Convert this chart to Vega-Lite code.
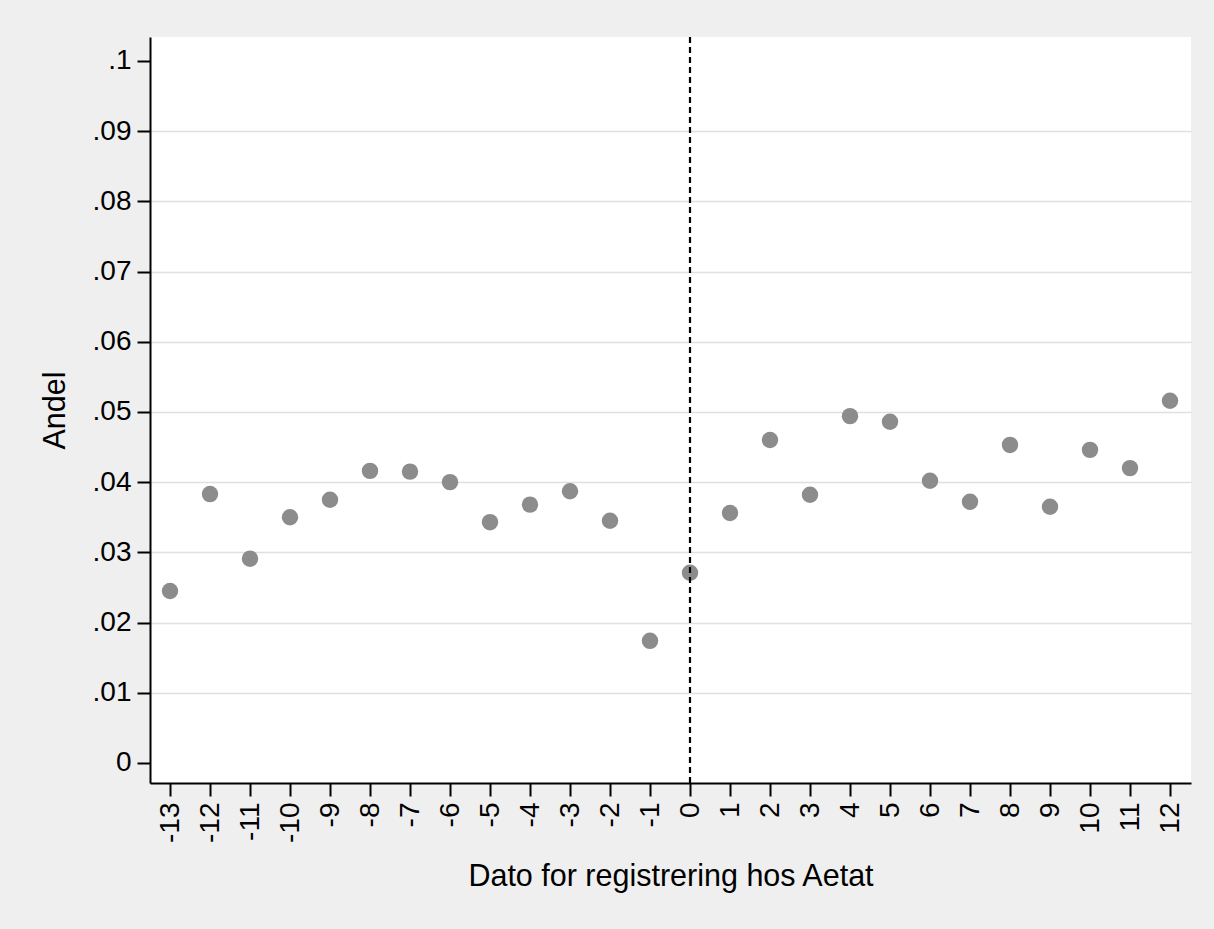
{
  "$schema": "https://vega.github.io/schema/vega-lite/v6.json",
  "autosize": {"type": "none"},
  "width": 1041,
  "height": 746,
  "padding": {"left": 150, "top": 37, "right": 23, "bottom": 146},
  "background": "#efefef",
  "config": {
    "view": {"fill": "white", "stroke": null},
    "font": "Liberation Sans",
    "axis": {
      "domainColor": "black",
      "domainWidth": 2,
      "tickColor": "black",
      "tickWidth": 2,
      "tickSize": 13,
      "labelColor": "black",
      "titleColor": "black",
      "labelFont": "Liberation Sans",
      "titleFont": "Liberation Sans",
      "labelFontSize": 28,
      "titleFontSize": 30.5,
      "titleFontWeight": "normal",
      "labelPadding": 6
    }
  },
  "data": {
    "values": [
      {"t": -13, "andel": 0.0245},
      {"t": -12, "andel": 0.0383},
      {"t": -11, "andel": 0.0291},
      {"t": -10, "andel": 0.0350},
      {"t": -9, "andel": 0.0375},
      {"t": -8, "andel": 0.0416},
      {"t": -7, "andel": 0.0415},
      {"t": -6, "andel": 0.0400},
      {"t": -5, "andel": 0.0343},
      {"t": -4, "andel": 0.0368},
      {"t": -3, "andel": 0.0387},
      {"t": -2, "andel": 0.0345},
      {"t": -1, "andel": 0.0174},
      {"t": 0, "andel": 0.0271},
      {"t": 1, "andel": 0.0356},
      {"t": 2, "andel": 0.0460},
      {"t": 3, "andel": 0.0382},
      {"t": 4, "andel": 0.0494},
      {"t": 5, "andel": 0.0486},
      {"t": 6, "andel": 0.0402},
      {"t": 7, "andel": 0.0372},
      {"t": 8, "andel": 0.0453},
      {"t": 9, "andel": 0.0365},
      {"t": 10, "andel": 0.0446},
      {"t": 11, "andel": 0.0420},
      {"t": 12, "andel": 0.0516}
    ]
  },
  "layer": [
    {
      "mark": {"type": "point", "filled": true, "size": 270, "color": "#8c8c8c", "opacity": 1},
      "encoding": {
        "x": {
          "field": "t",
          "type": "quantitative",
          "scale": {"domain": [-13.5, 12.525], "nice": false, "zero": false},
          "axis": {
            "title": "Dato for registrering hos Aetat",
            "values": [-13,-12,-11,-10,-9,-8,-7,-6,-5,-4,-3,-2,-1,0,1,2,3,4,5,6,7,8,9,10,11,12],
            "labelExpr": "'' + datum.value",
            "labelAngle": -90,
            "grid": false,
            "titlePadding": 19
          }
        },
        "y": {
          "field": "andel",
          "type": "quantitative",
          "scale": {"domain": [-0.00285, 0.1034], "nice": false, "zero": false},
          "axis": {
            "title": "Andel",
            "values": [0, 0.01, 0.02, 0.03, 0.04, 0.05, 0.06, 0.07, 0.08, 0.09, 0.1],
            "labelExpr": "datum.value == 0 ? '0' : slice(format(datum.value, '.2~f'), 1)",
            "grid": true,
            "gridColor": "#e0e0e0",
            "gridWidth": 1.5,
            "gridOpacity": {"condition": {"test": "datum.value <= 0.0001 || datum.value >= 0.0999", "value": 0}, "value": 1},
            "titlePadding": 22
          }
        }
      }
    },
    {
      "data": {"values": [{"t": 0}]},
      "mark": {"type": "rule", "color": "black", "strokeWidth": 2.2, "strokeDash": [6, 4]},
      "encoding": {
        "x": {"field": "t", "type": "quantitative"}
      }
    }
  ]
}
